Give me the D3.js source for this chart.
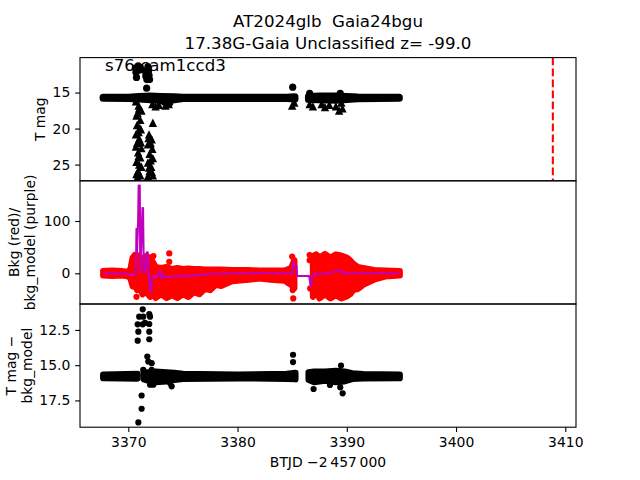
<!DOCTYPE html>
<html>
<head>
<meta charset="utf-8">
<script src="https://cdn.jsdelivr.net/npm/d3@7"></script>
<style>
  html, body { margin: 0; padding: 0; background: #fff; }
  svg { display: block; font-family: "DejaVu Sans", sans-serif; }
  text { white-space: pre; }
</style>
</head>
<body>
<svg id="chart" width="640" height="480"></svg>
<script>
// ---------------- DATA ----------------
const titleLines = ["AT2024glb  Gaia24bgu", "17.38G-Gaia Unclassified z= -99.0"];
const sectorLabel = "s76 cam1ccd3";
const xTicks = [3370, 3380, 3390, 3400, 3410];
const topYTicks = [15, 20, 25];
const midYTicks = [0, 100];
const botYTicks = [12.5, 15.0, 17.5];
const discoveryT = 3408.86;

// Panel 1: T mag — dense band of detections [t, magBright, magFaint]
const topBandA = [[3367.7,15.68,15.78],[3370.0,15.66,15.8],[3371.0,15.55,15.9],[3372.0,15.5,16.0],
  [3373.0,15.55,16.1],[3374.2,15.6,16.0],[3375.0,15.66,15.82],[3380.0,15.68,15.8],[3384.5,15.66,15.82],[3385.25,15.6,15.9]];
const topBandB = [[3386.5,15.55,15.95],[3387.5,15.5,16.0],[3389.0,15.5,16.05],[3390.0,15.55,15.95],
  [3391.0,15.64,15.84],[3394.8,15.68,15.78]];
// Panel 1: individual detections [t, mag]
const topCircles = [[3370.65,11.6],[3370.7,12.2],[3370.75,12.9],[3370.9,11.3],[3371.0,11.9],[3371.1,11.5],
  [3371.55,12.0],[3371.6,12.7],[3371.7,13.2],[3371.8,11.4],[3371.85,12.0],[3371.9,12.6],[3371.95,13.2],
  [3371.68,14.4],[3373.3,16.3],[3373.8,16.4],[3385.05,14.25],[3386.6,15.1],[3389.4,15.1]];
// Panel 1: upper limits [t, mag]
const topTriangles = [[3370.7,16.2],[3370.95,16.8],[3371.2,17.5],[3370.75,18.2],[3371.1,18.8],[3370.8,19.5],
  [3371.15,20.1],[3370.7,20.8],[3371.0,21.4],[3370.8,22.0],[3371.2,22.7],[3370.9,23.3],[3371.1,24.0],
  [3370.75,24.6],[3371.2,25.3],[3370.9,25.9],[3371.1,26.5],[3370.75,26.3],[3371.0,17.2],[3370.95,23.8],
  [3370.85,17.8],[3371.05,19.9],[3370.95,20.5],[3371.15,21.9],[3370.7,22.5],[3371.0,25.0],[3370.85,26.7],
  [3372.25,19.2],[3371.9,20.8],[3372.15,21.5],[3371.8,22.2],[3372.2,22.8],[3371.95,23.5],[3372.25,24.1],
  [3371.8,24.7],[3372.1,25.3],[3371.95,25.9],[3372.25,26.5],[3371.8,26.6],[3372.05,24.4],
  [3371.85,21.3],[3372.05,22.0],[3372.15,26.0],[3371.9,25.4],
  [3372.2,16.6],[3372.5,16.9],[3372.8,16.7],[3373.4,16.8],[3373.7,16.6],[3385.0,16.8],[3385.2,16.4],
  [3386.6,16.6],[3386.9,16.9],[3387.7,16.6],[3388.0,17.0],[3388.4,16.7],[3389.0,16.9],[3389.3,17.5],
  [3389.6,17.2],[3389.5,16.4]];

// Panel 2: background flux — dense band [t, low, high]
const bkgBandA = [[3367.7,-4,4],[3368.5,-5,5],[3369.5,-4,4],[3370.0,-6,3],[3370.2,-10,8],[3370.4,-25,30],
  [3370.6,-18,35],[3370.8,-32,28],[3371.0,-25,34],[3371.3,-40,25],[3371.6,-35,33],[3372.0,-45,30],
  [3372.3,-40,20],[3372.5,-47,12],[3373.0,-40,10],[3373.5,-47,12],[3374.0,-42,8],[3374.5,-47,10],
  [3375.0,-40,8],[3375.5,-45,9],[3376.0,-36,8],[3376.5,-40,8],[3377.0,-30,7],[3377.5,-32,7],
  [3378.0,-22,7],[3378.5,-24,7],[3379.5,-15,6],[3381.0,-12,6],[3382.0,-10,5],[3383.0,-12,5],
  [3384.3,-14,5],[3384.9,-22,10],[3385.2,-28,25]];
const bkgBandB = [[3386.9,-45,33],[3387.2,-30,36],[3387.5,-48,30],[3388.0,-40,37],[3388.5,-48,30],
  [3389.0,-42,36],[3389.5,-48,34],[3390.0,-44,30],[3390.3,-40,25],[3390.6,-32,18],[3391.0,-30,12],
  [3391.5,-22,10],[3392.5,-12,6],[3393.5,-6,5],[3394.85,-4,4]];
const bkgOutliers = [[3370.75,-45],[3370.9,-30],[3373.75,38],[3373.75,22],[3372.3,33],[3385.0,32],
  [3385.05,-32],[3385.1,-48],[3386.6,35],[3386.6,25],[3386.65,-29]];
// Panel 2: background model (purple line) [t, value]
const bkgModel = [[3367.7,0],[3369.5,0],[3370.0,-2],[3370.5,-3],[3370.7,-2],[3370.75,85],[3370.8,40],
  [3370.9,100],[3370.95,168],[3371.05,168],[3371.1,5],[3371.2,60],[3371.3,125],[3371.35,125],[3371.42,0],
  [3371.55,5],[3371.7,40],[3371.78,40],[3371.85,0],[3372.0,-30],[3372.1,-35],[3372.2,-5],[3372.6,-8],
  [3372.9,5],[3373.0,-10],[3373.2,-2],[3373.4,-8],[3374.0,-6],[3376.0,-4],[3378.0,-1],[3380.0,0],
  [3384.0,0],[3385.0,-1],[3385.1,22],[3385.2,15],[3385.4,15],[3385.45,-5],[3386.55,-5],[3386.7,-25],
  [3386.9,-2],[3388.0,-1],[3389.5,6],[3389.6,-1],[3391.0,0],[3394.8,0]];

// Panel 3: T mag − bkg_model — dense band [t, magBright, magFaint]
const diffBandA = [[3367.7,15.66,15.92],[3370.85,15.62,15.95]];
const diffBandB = [[3371.4,15.5,16.0],[3372.0,15.5,16.15],[3372.5,15.45,16.2],[3373.5,15.5,16.15],
  [3374.2,15.55,16.05],[3375.0,15.62,15.97],[3380.0,15.66,15.93],[3384.5,15.62,15.97],[3385.3,15.55,16.0]];
const diffBandC = [[3386.5,15.5,16.05],[3387.0,15.45,16.2],[3388.0,15.45,16.1],[3389.0,15.4,16.2],
  [3389.8,15.45,16.15],[3390.5,15.58,15.98],[3391.5,15.64,15.94],[3394.85,15.66,15.92]];
const diffOutliers = [[3371.32,11.04],[3371.0,11.56],[3371.37,11.56],[3370.86,12.1],[3371.32,12.1],
  [3370.92,12.62],[3370.86,13.26],[3371.92,11.37],[3371.99,11.56],[3371.92,12.08],[3371.92,12.62],
  [3371.92,13.16],[3371.53,12.0],[3371.22,17.15],[3371.22,18.09],[3370.92,19.06],[3371.74,14.39],
  [3371.83,14.74],[3372.14,14.86],[3371.37,15.33],[3372.14,15.33],[3371.99,16.39],[3372.29,16.39],
  [3373.97,16.5],[3373.82,16.27],[3385.08,14.26],[3385.08,14.78],[3386.96,16.69],[3388.46,16.4],
  [3389.4,16.57],[3389.62,17.0],[3389.47,15.03]];

// ---------------- LAYOUT ----------------
const W = 640, H = 480;
const L = 80, R = 576, T0 = 57.6, PH = 123.2;
const panels = [0, 1, 2].map(i => ({ top: T0 + i * PH, bottom: T0 + (i + 1) * PH }));
const svg = d3.select("#chart");
const FONT = "DejaVu Sans, sans-serif";

const x = d3.scaleLinear().domain([3365.58, 3410.98]).range([L, R]);
const yTop = d3.scaleLinear().domain([10.15, 27.25]).range([panels[0].top, panels[0].bottom]);
const yMid = d3.scaleLinear().domain([176.9, -58.7]).range([panels[1].top, panels[1].bottom]);
const yBot = d3.scaleLinear().domain([10.66, 19.4]).range([panels[2].top, panels[2].bottom]);

const defs = svg.append("defs");
panels.forEach((p, i) => {
  defs.append("clipPath").attr("id", "clip" + i).append("rect")
    .attr("x", L).attr("y", p.top).attr("width", R - L).attr("height", p.bottom - p.top);
});

function band(g, data, y, color, r) {
  const area = d3.area().x(d => x(d[0])).y0(d => y(d[1])).y1(d => y(d[2]));
  g.append("path").attr("d", area(data)).attr("fill", color).attr("stroke", color)
    .attr("stroke-width", 2 * r).attr("stroke-linejoin", "round");
}
function dots(g, data, y, color, r) {
  g.selectAll(null).data(data).enter().append("circle")
    .attr("cx", d => x(d[0])).attr("cy", d => y(d[1])).attr("r", r).attr("fill", color);
}
function tris(g, data, y, color, s) {
  g.selectAll(null).data(data).enter().append("path")
    .attr("transform", d => `translate(${x(d[0])},${y(d[1])})`)
    .attr("d", `M0,${-s / 2}L${s / 2},${s / 2}L${-s / 2},${s / 2}Z`).attr("fill", color);
}

// Panel 1
const g1 = svg.append("g").attr("clip-path", "url(#clip0)");
band(g1, topBandA, yTop, "#000", 3.6);
band(g1, topBandB, yTop, "#000", 3.6);
dots(g1, topCircles, yTop, "#000", 3.6);
tris(g1, topTriangles, yTop, "#000", 8.4);
g1.append("line").attr("x1", x(discoveryT)).attr("x2", x(discoveryT))
  .attr("y1", panels[0].top).attr("y2", panels[0].bottom)
  .attr("stroke", "#ff0000").attr("stroke-width", 2.08).attr("stroke-dasharray", "7.7,3.3");

// Panel 2
const g2 = svg.append("g").attr("clip-path", "url(#clip1)");
band(g2, bkgBandA, yMid, "#ff0000", 3.1);
band(g2, bkgBandB, yMid, "#ff0000", 3.1);
dots(g2, bkgOutliers, yMid, "#ff0000", 3.1);
g2.append("path").attr("d", d3.line().x(d => x(d[0])).y(d => yMid(d[1]))(bkgModel))
  .attr("fill", "none").attr("stroke", "#bf00bf").attr("stroke-width", 2.08).attr("stroke-linejoin", "round");

// Panel 3
const g3 = svg.append("g").attr("clip-path", "url(#clip2)");
band(g3, diffBandA, yBot, "#000", 3.1);
band(g3, diffBandB, yBot, "#000", 3.1);
band(g3, diffBandC, yBot, "#000", 3.1);
dots(g3, diffOutliers, yBot, "#000", 3.1);

// Axes
function yAxis(scale, ticks, fmt) {
  const ax = d3.axisLeft(scale).tickValues(ticks).tickSize(4.86).tickPadding(4.86).tickFormat(fmt);
  const g = svg.append("g").attr("transform", `translate(${L},0)`).call(ax);
  g.select(".domain").remove();
  g.selectAll("line").attr("stroke", "#000").attr("stroke-width", 1.1);
  g.selectAll("text").attr("font-family", FONT).attr("font-size", 13.9).attr("fill", "#000");
}
yAxis(yTop, topYTicks, d3.format("d"));
yAxis(yMid, midYTicks, d3.format("d"));
yAxis(yBot, botYTicks, d3.format(".1f"));

const xa = d3.axisBottom(x).tickValues(xTicks).tickSize(4.86).tickPadding(4.86).tickFormat(d3.format("d"));
const gx = svg.append("g").attr("transform", `translate(0,${panels[2].bottom})`).call(xa);
gx.select(".domain").remove();
gx.selectAll("line").attr("stroke", "#000").attr("stroke-width", 1.1);
gx.selectAll("text").attr("font-family", FONT).attr("font-size", 13.9).attr("fill", "#000");

// Frames
panels.forEach(p => {
  svg.append("rect").attr("x", L).attr("y", p.top).attr("width", R - L).attr("height", p.bottom - p.top)
    .attr("fill", "none").attr("stroke", "#000").attr("stroke-width", 1.1);
});

// Texts
svg.append("text").attr("x", (L + R) / 2).attr("y", 26.7).attr("text-anchor", "middle")
  .attr("font-family", FONT).attr("font-size", 16.67).attr("xml:space", "preserve").text(titleLines[0]);
svg.append("text").attr("x", (L + R) / 2).attr("y", 48.6).attr("text-anchor", "middle")
  .attr("font-family", FONT).attr("font-size", 16.67).text(titleLines[1]);
svg.append("text").attr("x", 105).attr("y", 70.5)
  .attr("font-family", FONT).attr("font-size", 16.67).text(sectorLabel);

function ylab(lines, xs, yc) {
  lines.forEach((s, i) => {
    svg.append("text").attr("transform", `translate(${xs[i]},${yc}) rotate(-90)`)
      .attr("text-anchor", "middle").attr("dominant-baseline", "central")
      .attr("font-family", FONT).attr("font-size", 13.9).text(s);
  });
}
ylab(["T mag"], [40], (panels[0].top + panels[0].bottom) / 2);
ylab(["Bkg (red)/", "bkg_model (purple)"], [14, 30], (panels[1].top + panels[1].bottom) / 2);
ylab(["T mag \u2212", "bkg_model"], [11, 27], (panels[2].top + panels[2].bottom) / 2);

svg.append("text").attr("x", (L + R) / 2).attr("y", 467).attr("text-anchor", "middle")
  .attr("font-family", FONT).attr("font-size", 13.9).text("BTJD \u22122\u2009457\u2009000");
</script>
</body>
</html>
